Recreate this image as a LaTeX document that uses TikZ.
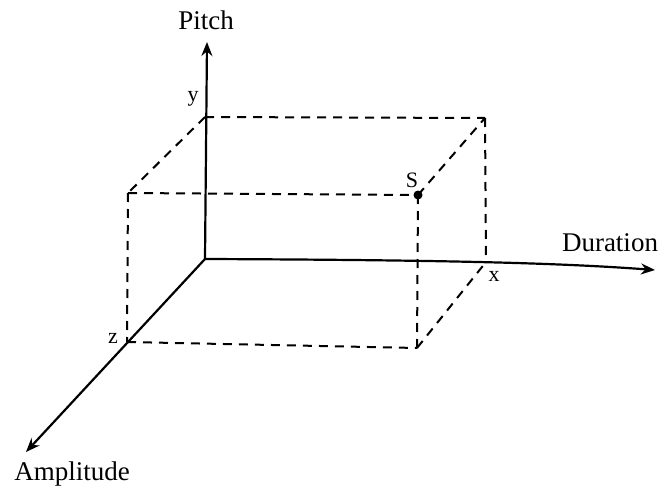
\documentclass[tikz,border=0pt]{standalone}
\usepackage{fontspec}
\setmainfont{Liberation Serif}
\usetikzlibrary{arrows.meta}
\begin{document}
\begin{tikzpicture}[x=1pt,y=-1pt,
  axis/.style={line width=2.2pt,-{Stealth[length=14pt,width=11pt]}},
  guide/.style={line width=2pt,dash pattern=on 9pt off 7pt},
  lab/.style={font=\fontsize{27}{29}\selectfont,inner sep=0pt},
  small/.style={font=\fontsize{22}{24}\selectfont,inner sep=0pt}]
\useasboundingbox (0,0) rectangle (664,487);
% axes points
\coordinate (O) at (205,259);
\coordinate (Ptip) at (207,42);
\coordinate (Dtip) at (655,270);
\coordinate (Atip) at (26,452);
% box corners
\coordinate (Y) at (205,117);
\coordinate (BR) at (485,118);
\coordinate (FL) at (128,193);
\coordinate (S) at (418,195);
\coordinate (X) at (486,262);
\coordinate (Z) at (127,342);
\coordinate (FR) at (417,348);
% dashed box
\draw[guide] (Y) -- (BR);
\draw[guide] (Y) -- (FL);
\draw[guide] (FL) -- (S);
\draw[guide] (S) -- (BR);
\draw[guide] (BR) -- (X);
\draw[guide] (FL) -- (Z);
\draw[guide] (S) -- (FR);
\draw[guide] (Z) -- (FR);
\draw[guide] (FR) -- (X);
% axes
\draw[axis] (O) -- (Ptip);
\draw[axis] (O) .. controls (450,260) and (560,263) .. (Dtip);
\draw[axis] (O) -- (Atip);
\fill (S) circle (4.5pt);
% labels
\node[lab] (lP) at (206,20) {Pitch};
\node[lab] (lD) at (610,243) {Duration};
\node[lab] (lA) at (72,474) {Amplitude};
\node[small] (ly) at (193,99) {y};
\node[small] (lx) at (494,276) {x};
\node[small] (lz) at (113,338) {z};
\node[small] (lS) at (412,180) {S};
\end{tikzpicture}
\end{document}
